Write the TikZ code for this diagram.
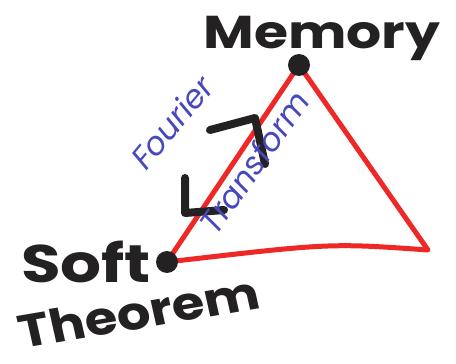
\documentclass[tikz,border=0pt]{standalone}
\usepackage{fontspec}
\setmainfont{Poppins}
\begin{document}
\begin{tikzpicture}[x=1pt,y=-1pt]
\definecolor{penred}{RGB}{238,40,38}
\definecolor{penblack}{RGB}{35,33,33}
\definecolor{penblue}{RGB}{72,72,190}
\tikzset{
  redline/.style={draw=penred,line width=5pt,line cap=round,line join=round},
  dotnode/.style={circle,fill=penblack,minimum size=22pt,inner sep=0pt},
  headline/.style={draw=penblack,line width=8pt,line cap=round,line join=round},
  bigword/.style={text=penblack,font=\bfseries\fontsize{46}{46}\selectfont,inner sep=0pt},
  blueword/.style={text=penblue,font=\itshape\fontsize{32}{32}\selectfont,inner sep=0pt}
}
\useasboundingbox[fill=white] (0,0) rectangle (456,364);
% vertices
\coordinate (mc) at (299,65);
\coordinate (sc) at (167,262);
\coordinate (rv) at (428,250);
% triangle
\draw[redline] (sc) -- (mc) -- (rv) .. controls (330,243) .. (sc);
% dots
\node[dotnode] (mem) at (mc) {};
\node[dotnode] (soft) at (sc) {};
% arrowheads on the left edge
\coordinate (h1) at (255,118);
\coordinate (h1a) at (210,130);
\coordinate (h1b) at (265,164);
\coordinate (h2) at (185,213);
\coordinate (h2a) at (185,178);
\coordinate (h2b) at (224,210);
\draw[headline] (h1a) -- (h1) -- (h1b);
\draw[headline] (h2a) -- (h2) -- (h2b);
% labels
\node[bigword,xscale=1.2] (tmem) at (322,38) {Memory};
\node[bigword,xscale=1.4,yscale=1.15] (tsoft) at (86,262) {Soft};
\node[bigword,xscale=1.15,rotate=11] (ttheo) at (139,312) {Theorem};
\node[blueword,rotate=50] (tfour) at (172,122) {Fourier};
\node[blueword,rotate=55] (ttrans) at (254,162) {Transform};
\end{tikzpicture}
\end{document}
